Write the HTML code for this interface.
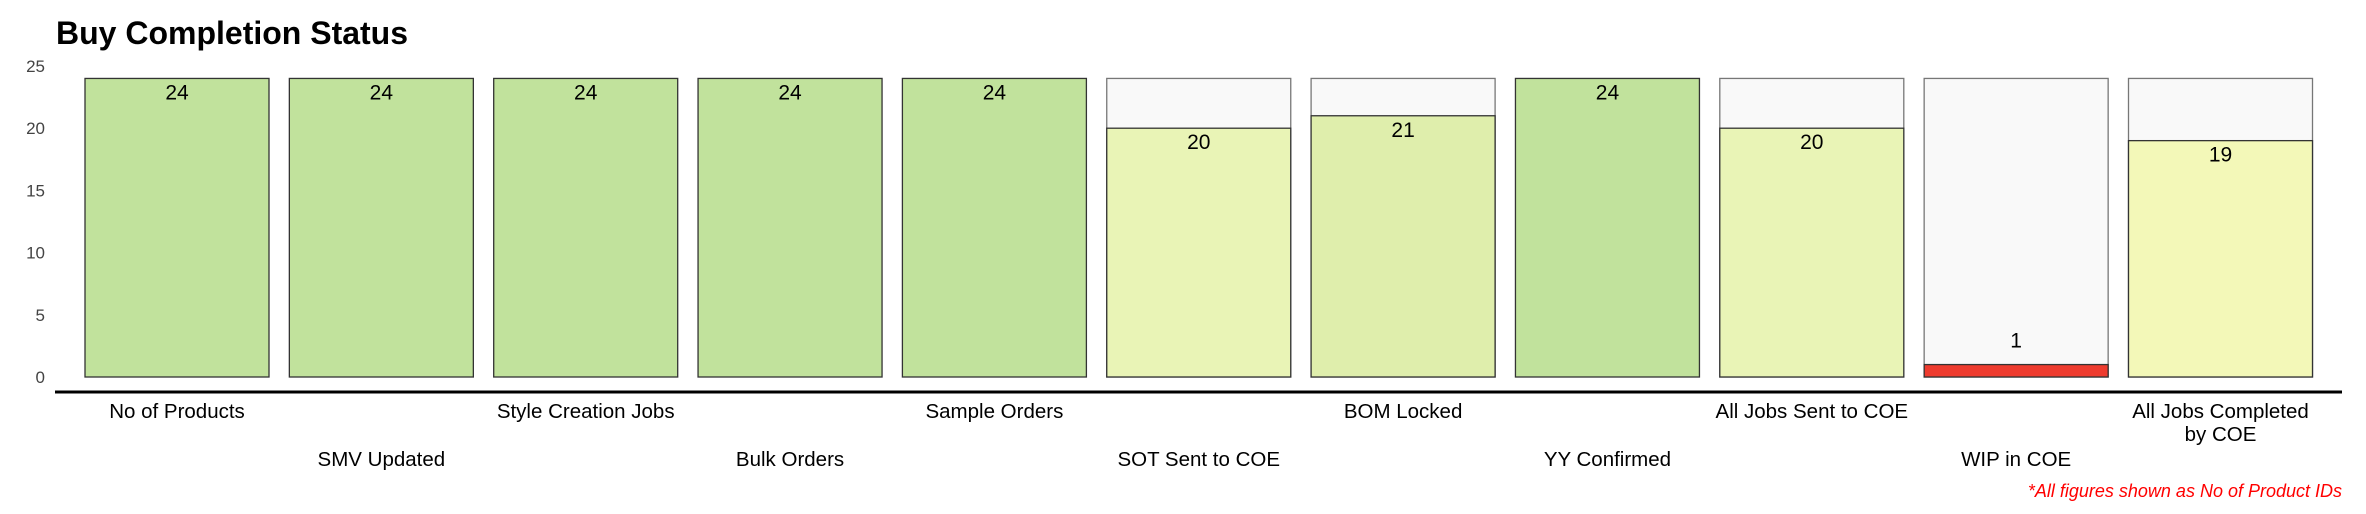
<!DOCTYPE html>
<html><head><meta charset="utf-8"><style>
html,body{margin:0;padding:0;background:#fff;}
svg{display:block;font-family:"Liberation Sans",Arial,sans-serif;}
</style></head><body>
<svg id="chart" width="2366" height="514" viewBox="0 0 2366 514">
<text x="56" y="44" font-size="32" font-weight="bold" fill="#000">Buy Completion Status</text>
<g id="yaxis"></g>
<g id="bars"></g>
<g id="xlabels"></g>
<line x1="55" y1="392" x2="2342" y2="392" stroke="#000" stroke-width="3"/>
<text x="2342" y="497" font-size="18" font-style="italic" fill="#ff0000" text-anchor="end">*All figures shown as No of Product IDs</text>
</svg>
<script>
const categories = ["No of Products","SMV Updated","Style Creation Jobs","Bulk Orders","Sample Orders","SOT Sent to COE","BOM Locked","YY Confirmed","All Jobs Sent to COE","WIP in COE","All Jobs Completed|by COE"];
const values = [24,24,24,24,24,20,21,24,20,1,19];
const totals = [24,24,24,24,24,24,24,24,24,24,24];
const colors = ["#c1e29c","#c1e29c","#c1e29c","#c1e29c","#c1e29c","#e9f4b6","#dfeeac","#c1e29c","#e9f4b6","#ee3b2e","#f3f8b8"];
const yTicks = [0,5,10,15,20,25];

const NS = "http://www.w3.org/2000/svg";
const y0 = 377, unit = 12.44;
const x0 = 85, step = 204.35, bw = 184;
function yScale(v){ return y0 - v*unit; }
function xScale(i){ return x0 + i*step; }
function mk(tag, attrs, parent){
  const e = document.createElementNS(NS, tag);
  for (const k in attrs) e.setAttribute(k, attrs[k]);
  parent.appendChild(e); return e;
}
const yg = document.getElementById('yaxis');
yTicks.forEach(t=>{
  const e = mk('text',{x:45,y:yScale(t)+6,'font-size':17,fill:'#444','text-anchor':'end'},yg);
  
  
  e.textContent = t;
});
const bg = document.getElementById('bars');
const xg = document.getElementById('xlabels');
categories.forEach((c,i)=>{
  const x = xScale(i);
  if (values[i] < totals[i]) {
    const r = mk('rect',{x:x,y:yScale(totals[i]),width:bw,height:totals[i]*unit,fill:'#f9f9f9',stroke:'#777','stroke-width':1.3},bg);
    
    
  }
  const b = mk('rect',{x:x,y:yScale(values[i]),width:bw,height:values[i]*unit,fill:colors[i],stroke:'#333','stroke-width':1.3},bg);
  
  
  const ly = values[i] >= 3 ? yScale(values[i]) + 21 : yScale(values[i]) - 17;
  const vl = mk('text',{x:x+bw/2,y:ly,'font-size':21,fill:'#000','text-anchor':'middle'},bg);
  
  
  vl.textContent = values[i];
  const lines = c.split('|');
  const baseY = (i % 2 === 0) ? 418 : 466;
  lines.forEach((ln,j)=>{
    const t = mk('text',{x:x+bw/2,y:baseY+j*23,'font-size':20.5,fill:'#000','text-anchor':'middle'},xg);
    
    
    t.textContent = ln;
  });
});
</script>
</body></html>
